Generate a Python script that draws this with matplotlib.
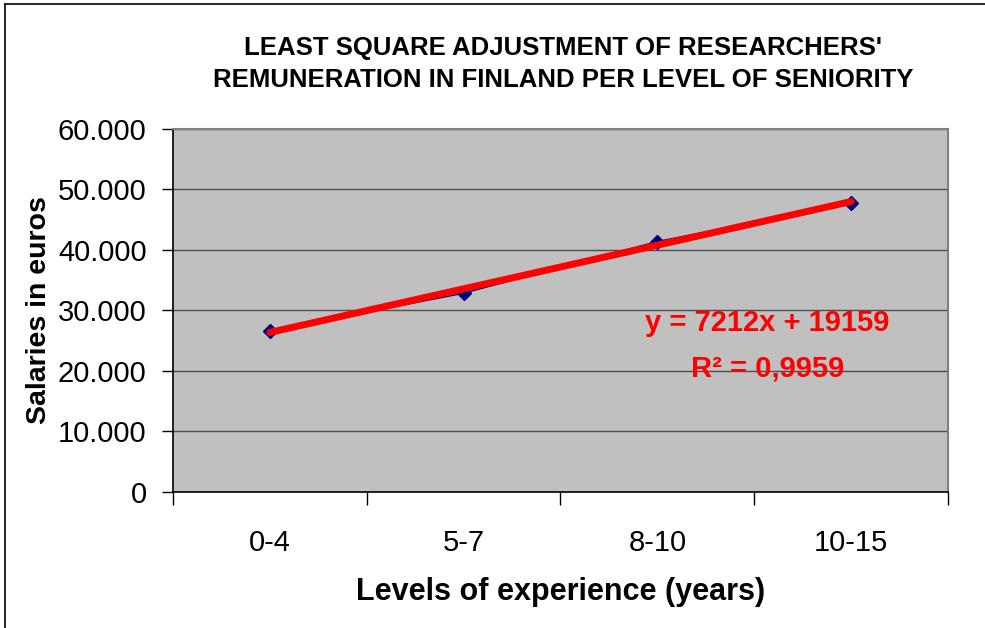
import matplotlib
matplotlib.use("Agg")
import matplotlib.pyplot as plt
import matplotlib.ticker as mticker
from matplotlib.lines import Line2D
import numpy as np

plt.rcParams['font.family'] = ['Liberation Sans', 'DejaVu Sans']

categories = ["0-4", "5-7", "8-10", "10-15"]
salaries = [26600, 32850, 41400, 47700]
trendSlope = 7212
trendIntercept = 19159
rSquared = "0,9959"
yTicks = [0, 10000, 20000, 30000, 40000, 50000, 60000]

xPos = np.arange(1, len(categories) + 1)

fig = plt.figure(figsize=(9.85, 6.28), dpi=100)
ax = fig.add_axes([0.1756, 0.2166, 0.7868, 0.578])

ax.set_facecolor('#C0C0C0')
ax.set_xlim(0.5, len(categories) + 0.5)
ax.set_ylim(0, 60000)
ax.set_yticks(yTicks)
ax.yaxis.set_major_formatter(mticker.FuncFormatter(
    lambda v, p: "0" if v == 0 else f"{int(v):,}".replace(",", ".")))
ax.grid(axis='y', color='#4d4d4d', linewidth=1.0)
ax.set_axisbelow(True)

ax.plot(xPos, salaries, color='#000080', linewidth=1.0, marker='D',
        markersize=7, markerfacecolor='#000080', markeredgecolor='#000080', zorder=3)

trendY = trendSlope * xPos + trendIntercept
ax.plot(xPos, trendY, color='#FF0000', linewidth=5, solid_capstyle='round', zorder=4)

ax.text(3.565, 27900, f"y = {trendSlope}x + {trendIntercept}", color='#FF0000',
        fontsize=21, fontweight='bold', ha='center', va='center')
ax.text(3.57, 20400, f"R\u00b2 = {rSquared}", color='#FF0000',
        fontsize=21, fontweight='bold', ha='center', va='center')

# category ticks between categories, labels centered under them
ax.set_xticks(xPos)
ax.set_xticklabels(categories)
ax.set_xticks(np.arange(0.5, len(categories) + 1, 1), minor=True)
ax.tick_params(axis='x', which='major', length=0, pad=27, labelsize=21)
ax.tick_params(axis='x', which='minor', length=9, width=1, direction='out', color='black')
ax.tick_params(axis='y', length=8, width=1, direction='out', labelsize=21, pad=11)

for side in ['top', 'right']:
    ax.spines[side].set_color('#808080')
    ax.spines[side].set_linewidth(1.5)
for side in ['left', 'bottom']:
    ax.spines[side].set_color('black')
    ax.spines[side].set_linewidth(1.2)

ax.set_xlabel("Levels of experience (years)", fontsize=22, fontweight='bold', labelpad=14)
ax.set_ylabel("Salaries in euros", fontsize=20.5, fontweight='bold', labelpad=4)

fig.text(0.572, 0.898, "LEAST SQUARE ADJUSTMENT OF RESEARCHERS'\nREMUNERATION IN FINLAND PER LEVEL OF SENIORITY",
         ha='center', va='center', fontsize=18.5, fontweight='bold', linespacing=1.45)

# chart frame, cut off on the right and bottom
fig.add_artist(Line2D([0.005, 0.005], [0, 0.994], transform=fig.transFigure, color='black', linewidth=1.2))
fig.add_artist(Line2D([0.005, 1.0], [0.994, 0.994], transform=fig.transFigure, color='black', linewidth=1.2))

fig.savefig("out.png", dpi=100)
